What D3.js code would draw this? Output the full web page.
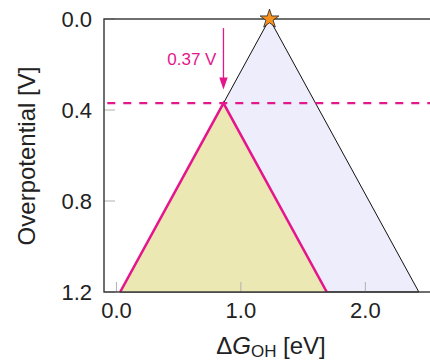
<!DOCTYPE html>
<html><head><meta charset="utf-8">
<script src="https://cdn.jsdelivr.net/npm/d3@7"></script>
<style>body{margin:0;background:#fff}svg{display:block}text{font-family:"Liberation Sans",Arial,sans-serif}</style>
</head><body><svg id="c" width="430" height="362"></svg>
<script>
// ---- data ----
const xTicks = [0.0, 1.0, 2.0];
const yTicks = [0.0, 0.4, 0.8, 1.2];
const xTickLabels = ["0.0", "1.0", "2.0"];
const yTickLabels = ["0.0", "0.4", "0.8", "1.2"];
const idealDG = 1.23;              // optimum ΔG_OH (star)
const limitingEta = 0.37;          // overpotential of best catalyst
const outerTriangle = [ {dG: 0.03, eta: 1.2}, {dG: 1.23, eta: 0.0}, {dG: 2.43, eta: 1.2} ];
const innerTriangle = [ {dG: 0.03, eta: 1.2}, {dG: 0.86, eta: 0.37}, {dG: 1.69, eta: 1.2} ];
const annotationText = "0.37 V";
const arrowFrom = 0.04, arrowTo = 0.305;  // eta range of the arrow

// ---- layout ----
const svg = d3.select("#c");
const x = d3.scaleLinear().domain([-0.1, 2.6]).range([104, 440]);
const y = d3.scaleLinear().domain([0, 1.2]).range([19, 292]);
const magenta = "#e5168c";

const line = d3.line().x(d => x(d.dG)).y(d => y(d.eta));

// fills
svg.append("path").attr("d", line(outerTriangle) + "Z")
  .attr("fill", "#ededfb").attr("stroke", "#111").attr("stroke-width", 1);
svg.append("path").attr("d", line(innerTriangle) + "Z")
  .attr("fill", "#ece8b4").attr("stroke", "none");
// magenta boundary of inner triangle (two sides)
svg.append("path").attr("d", line(innerTriangle))
  .attr("fill", "none").attr("stroke", magenta).attr("stroke-width", 2.6).attr("stroke-linejoin", "miter");

// dashed limiting line
svg.append("line")
  .attr("x1", x(-0.1)).attr("x2", x(2.6))
  .attr("y1", y(limitingEta)).attr("y2", y(limitingEta))
  .attr("stroke", magenta).attr("stroke-width", 2.2)
  .attr("stroke-dasharray", "8,8").attr("stroke-dashoffset", 12.7);

// arrow
const ax = x(innerTriangle[1].dG);
svg.append("line").attr("x1", ax).attr("x2", ax)
  .attr("y1", y(arrowFrom)).attr("y2", y(arrowTo) - 2)
  .attr("stroke", magenta).attr("stroke-width", 1.3);
svg.append("path")
  .attr("d", `M${ax-4.2},${y(arrowTo)-11} L${ax+4.2},${y(arrowTo)-11} L${ax},${y(arrowTo)+1} Z`)
  .attr("fill", magenta);
svg.append("text").attr("x", ax - 7).attr("y", 65)
  .attr("text-anchor", "end").attr("font-size", 17).attr("fill", magenta)
  .text(annotationText);

// ticks (inward, grey)
svg.append("g").selectAll("line").data(yTicks).join("line")
  .attr("x1", x(-0.1)).attr("x2", x(-0.1) + 11)
  .attr("y1", d => y(d)).attr("y2", d => y(d))
  .attr("stroke", "#b0b0b0").attr("stroke-width", 1);
svg.append("g").selectAll("line").data(xTicks).join("line")
  .attr("x1", d => x(d)).attr("x2", d => x(d))
  .attr("y1", y(1.2)).attr("y2", y(1.2) - 10)
  .attr("stroke", "#b0b0b0").attr("stroke-width", 1);

// frame
svg.append("rect").attr("x", x(-0.1)).attr("y", y(0))
  .attr("width", x(2.6) - x(-0.1)).attr("height", y(1.2) - y(0))
  .attr("fill", "none").attr("stroke", "#333").attr("stroke-width", 1.4);

// star at optimum
const star = d3.symbol().type(d3.symbolStar).size(110);
svg.append("path").attr("d", star())
  .attr("transform", `translate(${x(idealDG)},${y(0)})`)
  .attr("fill", "#f7921e").attr("stroke", "#222").attr("stroke-width", 0.8);

// tick labels
svg.append("g").selectAll("text").data(yTicks).join("text")
  .attr("x", 92).attr("y", d => y(d)).attr("dy", "0.36em")
  .attr("text-anchor", "end").attr("font-size", 22).attr("fill", "#222")
  .text((d, i) => yTickLabels[i]);
svg.append("g").selectAll("text").data(xTicks).join("text")
  .attr("x", d => x(d)).attr("y", 318)
  .attr("text-anchor", "middle").attr("font-size", 22).attr("fill", "#222")
  .text((d, i) => xTickLabels[i]);

// axis labels
svg.append("text").attr("transform", "translate(35,156) rotate(-90)")
  .attr("text-anchor", "middle").attr("font-size", 24).attr("fill", "#222")
  .text("Overpotential [V]");
const xl = svg.append("text").attr("x", 271).attr("y", 354)
  .attr("text-anchor", "middle").attr("font-size", 24).attr("fill", "#222");
xl.append("tspan").text("Δ");
xl.append("tspan").attr("font-style", "italic").text("G");
xl.append("tspan").attr("font-size", 17).attr("dy", 3).text("OH");
xl.append("tspan").attr("dy", -3).text(" [eV]");
</script></body></html>
